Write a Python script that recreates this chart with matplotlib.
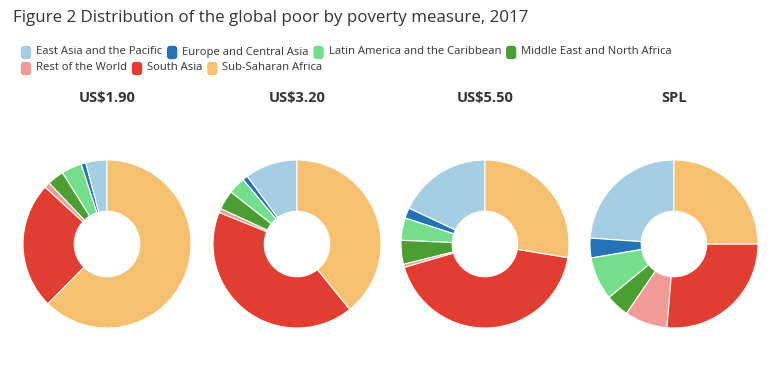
"""
Distribution of the global poor by poverty measure, 2017 - four donut charts.
"""

import matplotlib
matplotlib.use("Agg")
from matplotlib import pyplot as plt
from matplotlib.patches import FancyBboxPatch

# Data (shares of the global poor, %)
REGIONS = ["East Asia and the Pacific", "Europe and Central Asia",
           "Latin America and the Caribbean", "Middle East and North Africa",
           "Rest of the World", "South Asia", "Sub-Saharan Africa"]
MEASURES = ["US$1.90", "US$3.20", "US$5.50", "SPL"]
SHARE_190 = [4.1, 0.9, 3.9, 3.2, 1.1, 24.4, 62.4]
SHARE_320 = [10.1, 1.0, 3.3, 3.7, 0.8, 41.9, 39.2]
SHARE_550 = [18.0, 2.0, 4.3, 4.6, 0.6, 42.9, 27.6]
SHARE_SPL = [23.9, 3.8, 8.3, 4.5, 8.2, 26.4, 25.0]

COLORS = ["#a6cee3", "#2372b5", "#74de8c", "#4b9e32",
          "#f19a98", "#e23d31", "#f5c06f"]

# Visual elements
W, H = 778, 375
DPI = 100
TEXT_COLOR = "#333333"
FONT = "Open Sans"
PIE_CENTERS_X = [107, 297, 485, 674]
PIE_CENTER_Y = 244
PIE_RADIUS = 84
HOLE = 0.39

fig = plt.figure(figsize=(W / DPI, H / DPI), dpi=DPI)

fig.text(13 / W, 1 - 18 / H, "Figure 2 Distribution of the global poor by poverty measure, 2017",
         fontsize=12.2, color=TEXT_COLOR, family=FONT, va="center", ha="left")

# Flowing legend (two rows, entries packed left to right)
legend_rows = [REGIONS[:4], REGIONS[4:]]
row_y = [52, 68]
renderer = fig.canvas.get_renderer()
idx = 0
for row, y in zip(legend_rows, row_y):
    x = 22
    for label in row:
        sw = FancyBboxPatch(((x) / W, 1 - (y + 6) / H), 8 / W, 11 / H,
                            boxstyle="round,pad=0.0015,rounding_size=0.004",
                            transform=fig.transFigure, facecolor=COLORS[idx],
                            edgecolor="none", mutation_aspect=W / H)
        fig.patches.append(sw)
        t = fig.text((x + 14) / W, 1 - y / H, label, fontsize=8.1, color=TEXT_COLOR,
                     family=FONT, va="center", ha="left")
        bb = t.get_window_extent(renderer=renderer)
        x = x + 14 + bb.width + 6
        idx += 1

# Donuts
share_sets = [SHARE_190, SHARE_320, SHARE_550, SHARE_SPL]
box = 2 * PIE_RADIUS * 1.07
for cx, title, shares in zip(PIE_CENTERS_X, MEASURES, share_sets):
    ax = fig.add_axes([(cx - box / 2) / W, (H - PIE_CENTER_Y - box / 2) / H, box / W, box / H])
    ax.pie(shares, colors=COLORS, startangle=90, counterclock=True, radius=1,
           wedgeprops=dict(width=1 - HOLE, edgecolor="white", linewidth=0.8))
    ax.set_xlim(-1.07, 1.07)
    ax.set_ylim(-1.07, 1.07)
    ax.set_aspect("equal")
    ax.axis("off")
    fig.text(cx / W, 1 - 98 / H, title, fontsize=10.5, fontweight="bold",
             color=TEXT_COLOR, family=FONT, ha="center", va="center")

fig.savefig("out.png", dpi=DPI)
